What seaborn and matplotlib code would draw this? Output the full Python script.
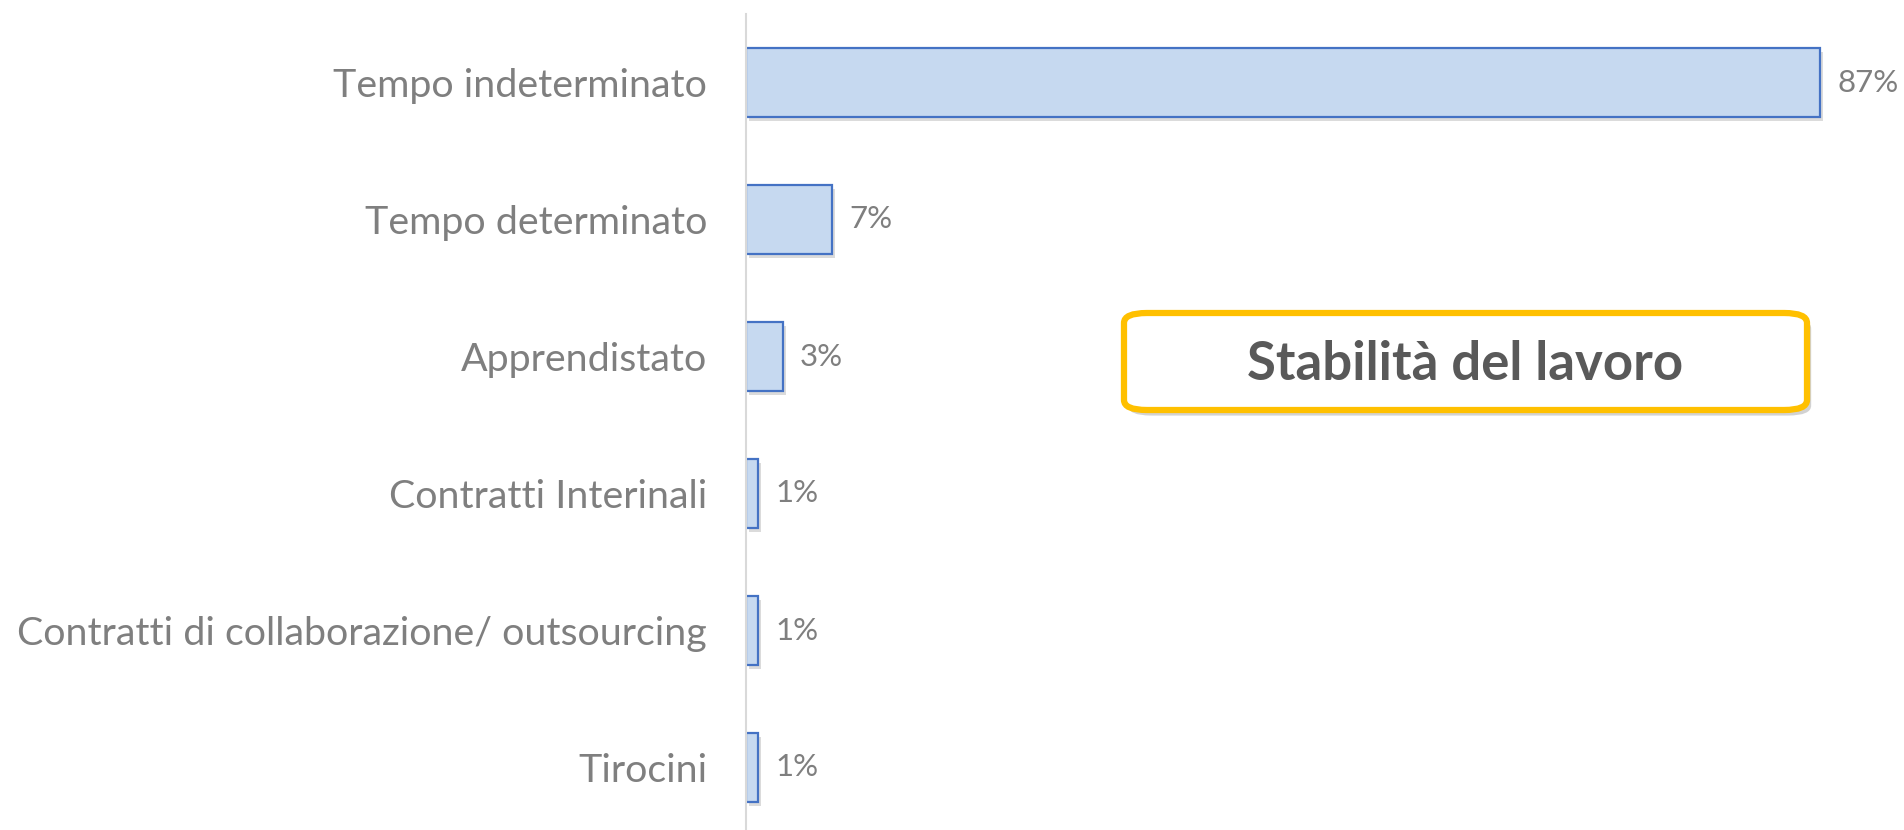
import matplotlib
matplotlib.use("Agg")
import matplotlib.pyplot as plt
import matplotlib.patheffects as pe
from matplotlib.patches import FancyBboxPatch
import seaborn as sns
import pandas as pd

categories = [
    "Tempo indeterminato",
    "Tempo determinato",
    "Apprendistato",
    "Contratti Interinali",
    "Contratti di collaborazione/ outsourcing",
    "Tirocini",
]
values = [87, 7, 3, 1, 1, 1]
value_labels = ["87%", "7%", "3%", "1%", "1%", "1%"]
title_text = "Stabilità del lavoro"

sns.set_theme(style="white")
plt.rcParams["font.family"] = ["Lato", "DejaVu Sans"]

df = pd.DataFrame({"cat": categories, "val": values})

fig = plt.figure(figsize=(19.04, 8.30), dpi=100)
ax = fig.add_axes([746 / 1904, -6 / 830, 1 - 746 / 1904, 822 / 830])

sns.barplot(data=df, y="cat", x="val", orient="h", ax=ax, width=0.5,
            color="#C6D9F0", edgecolor="#4472C4", linewidth=1.6, saturation=1)

for p in ax.patches:
    p.set_path_effects([pe.SimplePatchShadow(offset=(2, -3), shadow_rgbFace="#999999", alpha=0.35), pe.Normal()])

ax.set_xlim(0, 93.8)
ax.set_ylim(5.5, -0.5)
ax.set_xlabel("")
ax.set_ylabel("")
ax.set_xticks([])
for s in ["top", "right", "bottom"]:
    ax.spines[s].set_visible(False)
ax.spines["left"].set_color("#D9D9D9")
ax.spines["left"].set_linewidth(1.5)
ax.tick_params(axis="y", length=0, pad=28, labelsize=28.4, labelcolor="#7F7F7F")

for i, (v, lab) in enumerate(zip(values, value_labels)):
    ax.annotate(lab, xy=(v, i), xytext=(17, 0), textcoords="offset pixels",
                va="center", ha="left", fontsize=22.5, color="#7F7F7F")

# title box
bx0, by0, bx1, by1 = 1124 / 1904, 1 - 410 / 830, 1807 / 1904, 1 - 313 / 830
box = FancyBboxPatch((bx0, by0), bx1 - bx0, by1 - by0,
                     boxstyle="round,pad=0,rounding_size=0.012",
                     transform=fig.transFigure, facecolor="white",
                     edgecolor="#FFC000", linewidth=4.5, zorder=5,
                     path_effects=[pe.SimplePatchShadow(offset=(3, -4), alpha=0.25), pe.Normal()])
fig.add_artist(box)
fig.text((bx0 + bx1) / 2, (by0 + by1) / 2 - 0.004, title_text, ha="center", va="center",
         fontsize=38, fontweight="bold", color="#595959", zorder=6)

fig.savefig("out.png", dpi=100)
